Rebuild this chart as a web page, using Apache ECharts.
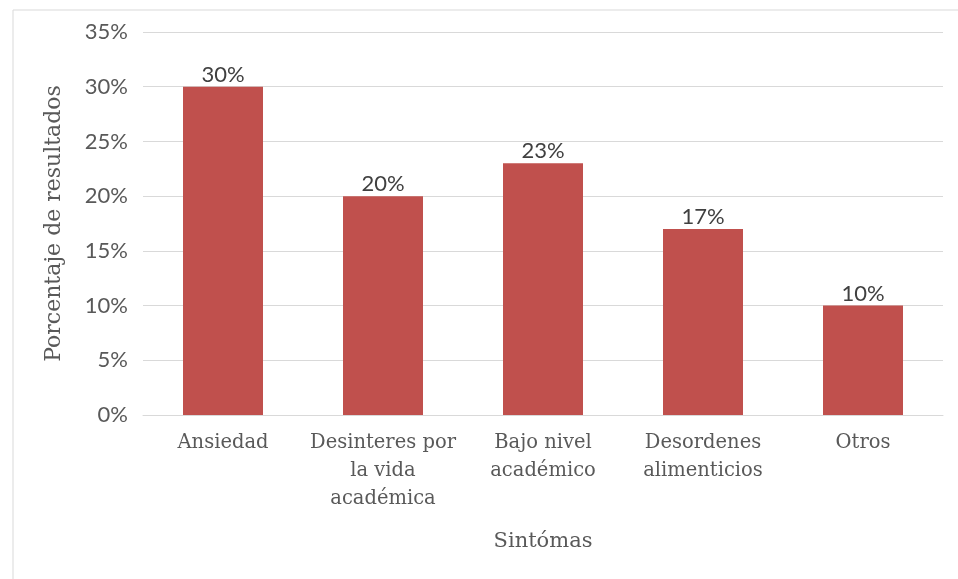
<!DOCTYPE html>
<html>
<head>
<meta charset="utf-8">
<script src="https://cdn.jsdelivr.net/npm/echarts@6/dist/echarts.min.js"></script>
<style>
html,body{margin:0;padding:0;background:#fff;}
#chart{width:958px;height:579px;}
</style>
</head>
<body>
<div id="chart"></div>
<script>
const categories = ["Ansiedad", "Desinteres por\nla vida\nacadémica", "Bajo nivel\nacadémico", "Desordenes\nalimenticios", "Otros"];
const values = [30, 20, 23, 17, 10];
const yTicks = [0, 5, 10, 15, 20, 25, 30, 35];
const xTitle = "Sintómas";
const yTitle = "Porcentaje de resultados";

const serif = "DejaVu Serif";
const sans = "Lato";
const chart = echarts.init(document.getElementById('chart'), null, {renderer: 'canvas'});
chart.setOption({
  animation: false,
  backgroundColor: '#ffffff',
  graphic: [{
    type: 'rect', left: 10.5, top: 7.5, silent: true,
    shape: {width: 1000, height: 1000},
    style: {fill: 'none', stroke: '#d9d9d9', lineWidth: 1}
  }],
  grid: {left: 143, right: 15, top: 32, bottom: 164},
  xAxis: {
    type: 'category',
    data: categories,
    name: xTitle,
    nameLocation: 'middle',
    nameGap: 116,
    nameTextStyle: {fontFamily: serif, fontSize: 21, color: '#595959'},
    axisLine: {show: true, lineStyle: {color: '#d9d9d9', width: 1}},
    axisTick: {show: false},
    axisLabel: {fontFamily: serif, fontSize: 19.5, color: '#595959', lineHeight: 28, margin: 14, interval: 0}
  },
  yAxis: {
    type: 'value',
    min: yTicks[0], max: yTicks[yTicks.length - 1], interval: 5,
    name: yTitle,
    nameLocation: 'middle',
    nameGap: 78,
    nameRotate: 90,
    nameTextStyle: {fontFamily: serif, fontSize: 22, color: '#595959'},
    axisLine: {show: false},
    axisTick: {show: false},
    splitLine: {lineStyle: {color: '#d9d9d9', width: 1}},
    axisLabel: {fontFamily: sans, fontSize: 22, color: '#595959', margin: 15, formatter: v => v + '%'}
  },
  series: [{
    type: 'bar',
    data: values,
    barWidth: '50%',
    itemStyle: {color: '#C0504D'},
    label: {show: true, position: 'top', distance: 1, fontFamily: sans, fontSize: 22, color: '#404040', formatter: p => p.value + '%'}
  }]
});
</script>
</body>
</html>
